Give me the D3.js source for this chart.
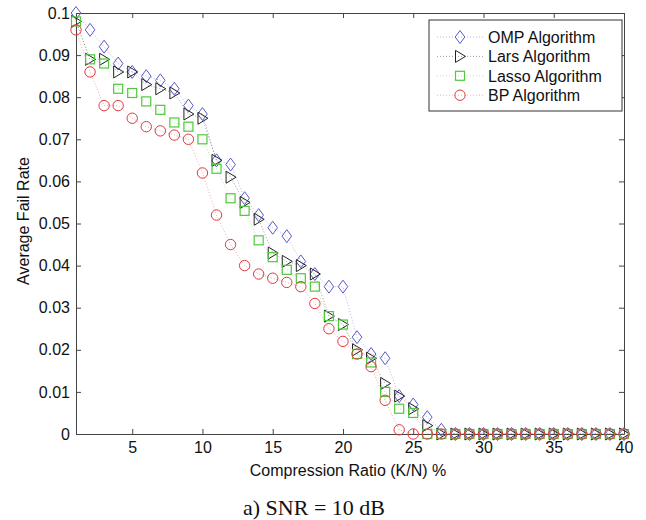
<!DOCTYPE html>
<html>
<head>
<meta charset="utf-8">
<script src="https://cdn.jsdelivr.net/npm/d3@7"></script>
<style>
  body { margin: 0; background: #fff; }
  svg text { font-family: "Liberation Sans", Arial, sans-serif; }
</style>
</head>
<body>
<div id="chart"></div>
<script>
// compression ratio 1..40
const ratios = d3.range(1, 41);
const zeros = n => new Array(n).fill(0);

const ompFail = [0.100, 0.096, 0.092, 0.088, 0.086, 0.085, 0.084, 0.082, 0.078, 0.076,
    0.065, 0.064, 0.056, 0.052, 0.049, 0.047, 0.041, 0.038, 0.035, 0.035,
    0.023, 0.019, 0.018, 0.009, 0.007, 0.004, 0.001].concat(zeros(13));
const larsFail = [0.098, 0.089, 0.089, 0.086, 0.086, 0.083, 0.082, 0.081, 0.076, 0.075,
    0.065, 0.061, 0.055, 0.051, 0.043, 0.041, 0.040, 0.038, 0.028, 0.026,
    0.020, 0.018, 0.012, 0.009, 0.006, 0.002].concat(zeros(14));
const lassoFail = [0.098, 0.089, 0.088, 0.082, 0.081, 0.079, 0.077, 0.074, 0.073, 0.070,
    0.063, 0.056, 0.053, 0.046, 0.042, 0.039, 0.037, 0.035, 0.028, 0.026,
    0.019, 0.017, 0.010, 0.006, 0.005].concat(zeros(15));
const bpFail = [0.096, 0.086, 0.078, 0.078, 0.075, 0.073, 0.072, 0.071, 0.070, 0.062,
    0.052, 0.045, 0.040, 0.038, 0.037, 0.036, 0.035, 0.031, 0.025, 0.022,
    0.019, 0.016, 0.008, 0.001].concat(zeros(16));

const seriesNames = ["OMP Algorithm", "Lars Algorithm", "Lasso Algorithm", "BP Algorithm"];
const xTicks = [5, 10, 15, 20, 25, 30, 35, 40];
const yTicks = [0, 0.01, 0.02, 0.03, 0.04, 0.05, 0.06, 0.07, 0.08, 0.09, 0.1];

const series = [
    {name: seriesNames[0], values: ompFail, color: "#5a5ac8", shape: "diamond"},
    {name: seriesNames[1], values: larsFail, color: "#222222", shape: "triangle"},
    {name: seriesNames[2], values: lassoFail, color: "#4fc83c", shape: "square"},
    {name: seriesNames[3], values: bpFail, color: "#e0383c", shape: "circle"}
];

const margin = {top: 13, right: 22, bottom: 86, left: 76},
    width = 646 - margin.left - margin.right,
    height = 520 - margin.top - margin.bottom;

const svg = d3.select("#chart")
    .append("svg")
    .attr("width", 646)
    .attr("height", 520)
    .append("g")
    .attr("transform", `translate(${margin.left},${margin.top})`);

const x = d3.scaleLinear().domain([1, 40]).range([0, width]);
const y = d3.scaleLinear().domain([0, 0.1]).range([height, 0]);

// marker drawers
function marker(sel, shape, color) {
    if (shape === "circle") {
        sel.append("circle").attr("r", 5.2)
            .attr("fill", "none").attr("stroke", color).attr("stroke-width", 1);
    } else if (shape === "diamond") {
        sel.append("path").attr("d", "M0,-6.5L4.8,0L0,6.5L-4.8,0Z")
            .attr("fill", "none").attr("stroke", color).attr("stroke-width", 1);
    } else if (shape === "triangle") {
        sel.append("path").attr("d", "M-4.5,-6L5.5,0L-4.5,6Z")
            .attr("fill", "none").attr("stroke", color).attr("stroke-width", 1);
    } else {
        sel.append("rect").attr("x", -4.5).attr("y", -4.5).attr("width", 9).attr("height", 9)
            .attr("fill", "none").attr("stroke", color).attr("stroke-width", 1.2);
    }
}

// axes (box style, ticks inward)
const axisColor = "#444";
svg.append("g")
    .attr("transform", `translate(0,${height})`)
    .call(d3.axisBottom(x).tickValues(xTicks).tickSizeInner(-5).tickSizeOuter(0).tickPadding(8))
    .call(g => g.selectAll("text").attr("font-size", "16px").attr("fill", "#111"));
svg.append("g")
    .call(d3.axisTop(x).tickValues(xTicks).tickSizeInner(-5).tickSizeOuter(0).tickFormat(""));
svg.append("g")
    .call(d3.axisLeft(y).tickValues(yTicks).tickSizeInner(-5).tickSizeOuter(0).tickPadding(6)
        .tickFormat(d => d === 0 ? "0" : d3.format("")(+d.toFixed(2))))
    .call(g => g.selectAll("text").attr("font-size", "16px").attr("fill", "#111"));
svg.append("g")
    .attr("transform", `translate(${width},0)`)
    .call(d3.axisRight(y).tickValues(yTicks).tickSizeInner(-5).tickSizeOuter(0).tickFormat(""));
svg.selectAll(".domain, .tick line").attr("stroke", axisColor);

// lines
const line = d3.line()
    .x((d, i) => x(ratios[i]))
    .y(d => y(d));

series.forEach(s => {
    svg.append("path")
        .datum(s.values)
        .attr("fill", "none")
        .attr("stroke", s.color)
        .attr("stroke-opacity", 0.55)
        .attr("stroke-width", 0.8)
        .attr("stroke-dasharray", "1,2")
        .attr("d", line);
});

series.forEach(s => {
    svg.selectAll(null)
        .data(s.values)
        .join("g")
        .attr("transform", (d, i) => `translate(${x(ratios[i])},${y(d)})`)
        .each(function() { marker(d3.select(this), s.shape, s.color); });
});

// axis labels
svg.append("text")
    .attr("x", 348 - margin.left)
    .attr("y", height + 42)
    .attr("text-anchor", "middle")
    .attr("font-size", "16px")
    .attr("fill", "#111")
    .text("Compression Ratio (K/N) %");
svg.append("text")
    .attr("transform", "rotate(-90)")
    .attr("x", -(221 - margin.top))
    .attr("y", -47)
    .attr("text-anchor", "middle")
    .attr("font-size", "16px")
    .attr("fill", "#111")
    .text("Average Fail Rate");

// caption
svg.append("text")
    .attr("x", 314 - margin.left)
    .attr("y", 515 - margin.top)
    .attr("text-anchor", "middle")
    .attr("font-size", "22px")
    .attr("fill", "#111")
    .style("font-family", "'Liberation Serif', 'Times New Roman', serif")
    .text("a) SNR = 10 dB");

// legend
const legend = svg.append("g").attr("transform", `translate(${429 - margin.left},${20 - margin.top})`);
legend.append("rect")
    .attr("width", 193).attr("height", 91)
    .attr("fill", "#fff").attr("stroke", "#333").attr("stroke-width", 1);
series.forEach((s, i) => {
    const row = legend.append("g").attr("transform", `translate(0,${17 + i * 19.4})`);
    row.append("line")
        .attr("x1", 8).attr("x2", 54)
        .attr("stroke", s.color).attr("stroke-opacity", 0.55)
        .attr("stroke-width", 0.8).attr("stroke-dasharray", "1,2");
    const m = row.append("g").attr("transform", "translate(31,0)");
    marker(m, s.shape, s.color);
    row.append("text")
        .attr("x", 59).attr("y", 6)
        .attr("font-size", "16px")
        .attr("fill", "#111")
        .text(s.name);
});
</script>
</body>
</html>
